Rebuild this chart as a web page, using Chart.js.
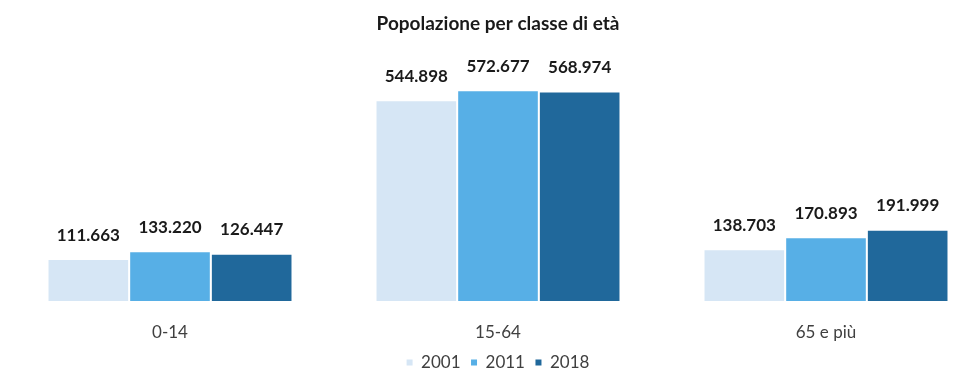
<!DOCTYPE html>
<html>
<head>
<meta charset="utf-8">
<script src="https://cdn.jsdelivr.net/npm/chart.js@4"></script>
<style>
  html, body { margin: 0; padding: 0; background: #fff; overflow: hidden; }
</style>
</head>
<body>
<canvas id="chart" width="957" height="372"></canvas>
<script>
// Age classes and population per census year
const categories = ['0-14', '15-64', '65 e più'];
const years = ['2001', '2011', '2018'];
const pop2001 = [111663, 544898, 138703];
const pop2011 = [133220, 572677, 170893];
const pop2018 = [126447, 568974, 191999];
const barColors = ['#d6e6f5', '#57afe6', '#20689b'];

const formatIt = (v) => v.toLocaleString('it-IT');

// Plugin to show values on top of bars
const showDataLabelsPlugin = {
  id: 'showDataLabelsPlugin',
  afterDatasetsDraw: (chart) => {
    const { ctx } = chart;
    chart.data.datasets.forEach((dataset, i) => {
      const meta = chart.getDatasetMeta(i);
      if (!meta || !meta.data) return;
      meta.data.forEach((element, index) => {
        const { x, y } = element.tooltipPosition();
        ctx.save();
        ctx.textAlign = 'center';
        ctx.textBaseline = 'middle';
        ctx.fillStyle = '#1a1a1a';
        ctx.font = 'bold 17px Lato';
        ctx.fillText(formatIt(dataset.data[index]), x, y - 25);
        ctx.restore();
      });
    });
  },
};

const seriesData = [pop2001, pop2011, pop2018];

new Chart(document.getElementById('chart'), {
  type: 'bar',
  data: {
    labels: categories,
    datasets: years.map((year, i) => ({
      label: year,
      data: seriesData[i],
      backgroundColor: barColors[i],
      categoryPercentage: 0.747,
      barPercentage: 0.975,
      clip: false,
    })),
  },
  options: {
    responsive: false,
    animation: false,
    layout: { padding: { left: 170, right: 131, top: 0, bottom: -9 } },
    scales: {
      x: {
        offset: false,
        grid: { display: false, drawTicks: false },
        border: { display: false },
        ticks: { color: '#404040', font: { family: 'Lato', size: 17 }, padding: 21 },
        afterFit: (scale) => {
          scale.height = 42.5;
        },
      },
      y: {
        display: false,
        min: 0,
        max: 650000,
      },
    },
    plugins: {
      title: {
        display: true,
        text: 'Popolazione per classe di età',
        fullSize: false,
        color: '#1a1a1a',
        font: { family: 'Lato', size: 19, weight: 'bold' },
        padding: { top: 12, bottom: 28 },
      },
      legend: {
        position: 'bottom',
        fullSize: false,
        labels: {
          color: '#404040',
          font: { family: 'Lato', size: 17 },
          boxWidth: 6,
          boxHeight: 6,
          padding: 10.5,
        },
      },
      tooltip: { enabled: false },
    },
  },
  plugins: [showDataLabelsPlugin],
});
</script>
</body>
</html>
